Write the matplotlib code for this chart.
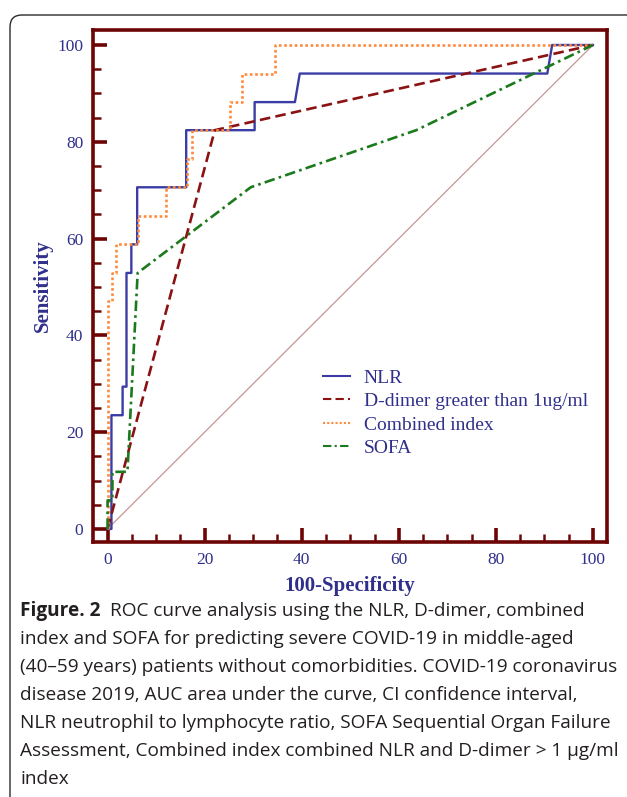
import matplotlib
matplotlib.use("Agg")
import matplotlib.pyplot as plt
from matplotlib.patches import FancyBboxPatch
from matplotlib.ticker import MultipleLocator
from matplotlib.transforms import IdentityTransform

# ROC points: (100-Specificity, Sensitivity)
nlr_x = [0, 0.8, 0.8, 3.1, 3.1, 3.9, 3.9, 4.9, 4.9, 6.1, 6.1, 16.2, 16.2, 30.3, 30.3, 38.6, 39.6, 90.6, 91.6, 100]
nlr_y = [0, 0, 23.5, 23.5, 29.4, 29.4, 52.9, 52.9, 58.8, 58.8, 70.6, 70.6, 82.4, 82.4, 88.2, 88.2, 94.1, 94.1, 100, 100]

ddimer_x = [0, 22.1, 100]
ddimer_y = [0, 82.4, 100]

comb_x = [0, 0, 0.9, 0.9, 1.8, 1.8, 6.2, 6.2, 12.0, 12.0, 16.4, 16.4, 17.3, 17.3, 25.2, 25.2, 27.6, 27.6, 34.5, 34.5, 100]
comb_y = [0, 47.1, 47.1, 52.9, 52.9, 58.8, 58.8, 64.7, 64.7, 70.6, 70.6, 76.5, 76.5, 82.4, 82.4, 88.2, 88.2, 94.1, 94.1, 100, 100]

sofa_x = [0, 0, 1.0, 1.0, 4.1, 6.2, 29.5, 63.6, 100]
sofa_y = [0, 5.9, 5.9, 11.8, 11.8, 52.9, 70.6, 82.4, 100]

labels = ["NLR", "D-dimer greater than 1ug/ml", "Combined index", "SOFA"]
ticks = [0, 20, 40, 60, 80, 100]

caption_bold = "Figure. 2"
caption_lines = [
    "ROC curve analysis using the NLR, D-dimer, combined",
    "index and SOFA for predicting severe COVID-19 in middle-aged",
    "(40\u201359 years) patients without comorbidities. COVID-19 coronavirus",
    "disease 2019, AUC area under the curve, CI confidence interval,",
    "NLR neutrophil to lymphocyte ratio, SOFA Sequential Organ Failure",
    "Assessment, Combined index combined NLR and D-dimer > 1 \u00b5g/ml",
    "index",
]

maroon = "#6e0505"
blue_txt = "#30308c"
serif = ["Liberation Serif", "DejaVu Serif"]

W, H = 627, 797
fig = plt.figure(figsize=(W / 100, H / 100), dpi=100)

# rounded panel frame
frame = FancyBboxPatch((10, -40), 720, H - 15 + 40,
                       boxstyle="round,pad=0,rounding_size=12",
                       transform=IdentityTransform(), fill=False,
                       edgecolor="#2a2a2a", linewidth=1.0)
fig.add_artist(frame)

ax = fig.add_axes([93 / W, 1 - 542 / H, (607 - 93) / W, (542 - 30) / H])

ax.plot([0, 100], [0, 100], color="#c89494", lw=0.9)
ax.plot(nlr_x, nlr_y, color="#3c3ca6", lw=1.7, label=labels[0])
ax.plot(ddimer_x, ddimer_y, color="#8a1212", lw=1.9, ls=(0, (4, 2)), label=labels[1])
ax.plot(comb_x, comb_y, color="#ff8a3a", lw=1.9, ls=(0, (1, 1)), label=labels[2])
ax.plot(sofa_x, sofa_y, color="#1b7a1b", lw=1.9, ls=(0, (4, 1.6, 1, 1.6)), label=labels[3])

ax.set_xlim(-3.0, 102.9)
ax.set_ylim(-2.7, 103.1)
ax.set_xticks(ticks)
ax.set_yticks(ticks)
ax.xaxis.set_minor_locator(MultipleLocator(5))
ax.yaxis.set_minor_locator(MultipleLocator(5))
ax.tick_params(which="both", direction="in", color=maroon, labelcolor=blue_txt,
               top=False, right=False)
ax.tick_params(which="major", length=10, width=2.6, labelsize=12.5, pad=7)
ax.tick_params(which="minor", length=6, width=1.8)
for lab in ax.get_xticklabels() + ax.get_yticklabels():
    lab.set_family(serif)
for sp in ax.spines.values():
    sp.set_color(maroon)
    sp.set_linewidth(2.6)

ax.set_xlabel("100-Specificity", family=serif, fontsize=15, weight="bold", color=blue_txt)
ax.set_ylabel("Sensitivity", family=serif, fontsize=15, weight="bold", color=blue_txt)
ax.xaxis.set_label_coords(0.5, -0.066)
ax.yaxis.set_label_coords(-0.078, 0.5)

leg = ax.legend(loc="upper left", bbox_to_anchor=(323 / W, 1 - 369 / H),
                bbox_transform=fig.transFigure, frameon=False, borderpad=0,
                borderaxespad=0, handlelength=1.4, handletextpad=0.7,
                labelspacing=0.3, labelcolor=blue_txt,
                prop={"family": serif, "size": 14})
for hl in leg.get_lines():
    hl.set_linewidth(1.5)

# caption
cap_font = ["Open Sans", "DejaVu Sans"]
cap_size = 13.7
y0 = 611
step = 28
t = fig.text(20 / W, 1 - y0 / H, caption_bold, family=cap_font, weight="bold",
             fontsize=cap_size, va="center", color="#231f20")
fig.canvas.draw()
bb = t.get_window_extent()
fig.text((bb.x1 + 9) / W, 1 - y0 / H, caption_lines[0], family=cap_font,
         fontsize=cap_size, va="center", color="#231f20")
for i, line in enumerate(caption_lines[1:], start=1):
    fig.text(20 / W, 1 - (y0 + step * i) / H, line, family=cap_font,
             fontsize=cap_size, va="center", color="#231f20")

fig.savefig("out.png", dpi=100)
